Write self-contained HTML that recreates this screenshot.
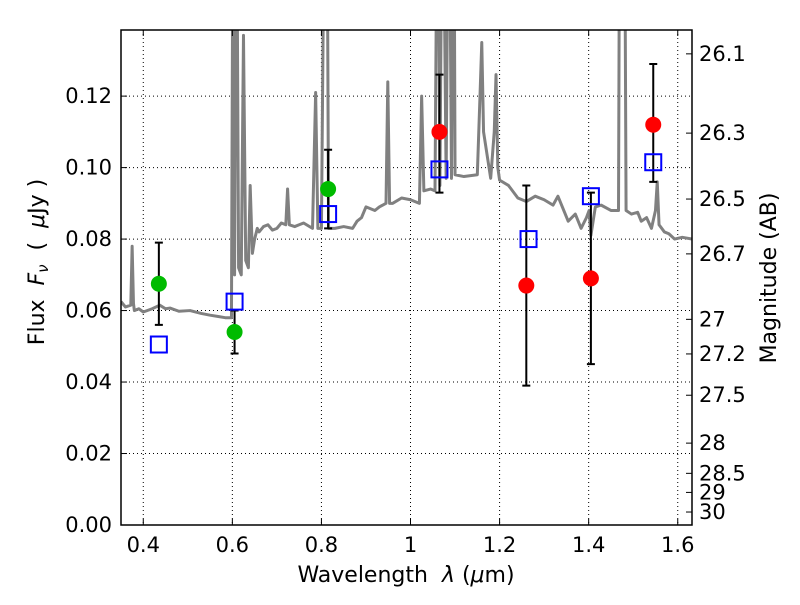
<!DOCTYPE html>
<html><head><meta charset="utf-8"><style>
body{margin:0;background:#fff}
svg text{font-family:"DejaVu Sans","Liberation Sans",sans-serif;fill:#000}
</style></head><body>
<svg id="chart" width="800" height="600" xmlns="http://www.w3.org/2000/svg">
<rect width="800" height="600" fill="#fff"/>
<g id="grid"></g>
<g id="spec"></g>
<g id="marks"></g>
<g id="axes"></g>
<text x="406" y="582" font-size="22" text-anchor="middle" xml:space="preserve">Wavelength  <tspan font-style="italic">λ</tspan> (<tspan font-style="italic">μ</tspan>m)</text>
<text transform="translate(44,262) rotate(-90)" font-size="22" text-anchor="middle" xml:space="preserve">Flux  <tspan font-style="italic">F<tspan font-size="15" dy="4">ν</tspan></tspan><tspan dy="-4">  (  <tspan font-style="italic">μ</tspan>Jy )</tspan></text>
<text transform="translate(776,278) rotate(-90)" font-size="22" text-anchor="middle">Magnitude (AB)</text>
</svg>
<script>
const xTicks=[0.4,0.6,0.8,1.0,1.2,1.4,1.6];
const xTickLabels=["0.4","0.6","0.8","1","1.2","1.4","1.6"];
const yTicks=[0,0.02,0.04,0.06,0.08,0.10,0.12];
const yTickLabels=["0.00","0.02","0.04","0.06","0.08","0.10","0.12"];
const magTicks=[26.1,26.3,26.5,26.7,27,27.2,27.5,28,28.5,29,30];
const greenX=[0.435,0.605,0.815];
const greenY=[0.0675,0.054,0.094];
const greenLo=[0.056,0.048,0.083];
const greenHi=[0.079,0.060,0.105];
const redX=[1.065,1.26,1.405,1.545];
const redY=[0.110,0.067,0.069,0.112];
const redLo=[0.093,0.039,0.045,0.096];
const redHi=[0.126,0.095,0.093,0.129];
const modelX=[0.435,0.605,0.815,1.065,1.265,1.405,1.545];
const modelY=[0.0505,0.0625,0.087,0.0995,0.080,0.092,0.1015];
const specW=[0.35,0.36,0.372,0.375,0.378,0.38,0.39,0.40,0.42,0.437,0.45,0.46,0.48,0.505,0.53,0.55,0.57,0.584,0.598,0.602,0.605,0.609,0.614,0.62,0.625,0.63,0.636,0.64,0.645,0.65,0.656,0.66,0.67,0.68,0.69,0.70,0.71,0.72,0.724,0.728,0.74,0.75,0.76,0.78,0.787,0.792,0.80,0.808,0.812,0.816,0.83,0.85,0.87,0.88,0.89,0.90,0.92,0.93,0.945,0.949,0.953,0.96,0.98,1.0,1.02,1.025,1.03,1.045,1.055,1.061,1.066,1.072,1.08,1.086,1.092,1.097,1.10,1.12,1.15,1.156,1.16,1.164,1.18,1.188,1.192,1.196,1.20,1.22,1.241,1.26,1.28,1.30,1.32,1.331,1.354,1.37,1.383,1.395,1.401,1.405,1.415,1.428,1.45,1.467,1.470,1.475,1.48,1.484,1.496,1.51,1.518,1.53,1.541,1.550,1.554,1.558,1.57,1.58,1.593,1.61,1.632];
const specF=[0.0625,0.061,0.0615,0.078,0.062,0.060,0.0605,0.0596,0.0605,0.0615,0.0605,0.0607,0.0598,0.060,0.0592,0.0587,0.0583,0.058,0.058,0.2,0.07,0.2,0.072,0.070,0.137,0.074,0.072,0.095,0.076,0.080,0.083,0.082,0.0835,0.084,0.0825,0.083,0.0845,0.084,0.094,0.084,0.0835,0.084,0.0845,0.083,0.121,0.083,0.083,0.2,0.2,0.083,0.083,0.0835,0.083,0.085,0.086,0.089,0.088,0.089,0.090,0.124,0.090,0.090,0.0915,0.091,0.090,0.120,0.0935,0.094,0.0935,0.2,0.095,0.2,0.097,0.2,0.097,0.2,0.098,0.0975,0.098,0.12,0.135,0.11,0.097,0.11,0.126,0.10,0.0965,0.095,0.0915,0.0905,0.092,0.091,0.0895,0.092,0.085,0.087,0.083,0.086,0.088,0.081,0.089,0.0895,0.088,0.088,0.2,0.2,0.2,0.088,0.087,0.0875,0.085,0.086,0.083,0.088,0.096,0.084,0.082,0.0815,0.080,0.0805,0.080];
const L=121,R=692,T=30,B=525,xmin=0.35,xmax=1.632,ymin=0,ymax=0.1385;
const sx=v=>L+(v-xmin)/(xmax-xmin)*(R-L);
const sy=v=>B-(v-ymin)/(ymax-ymin)*(B-T);
const NS="http://www.w3.org/2000/svg";
function mk(p,t,a){const e=document.createElementNS(NS,t);for(const k in a)e.setAttribute(k,a[k]);p.appendChild(e);return e;}
const grid=document.getElementById('grid'),axes=document.getElementById('axes'),spec=document.getElementById('spec'),marks=document.getElementById('marks');
xTicks.forEach((v,i)=>{const x=sx(v);
 const g=mk(grid,'line',{x1:x,x2:x,y1:T,y2:B,stroke:'#000','stroke-width':1,'stroke-dasharray':'1,3'});
 
 const t1=mk(axes,'line',{x1:x,x2:x,y1:B,y2:B-6,stroke:'#000'});
 const t2=mk(axes,'line',{x1:x,x2:x,y1:T,y2:T+6,stroke:'#000'});
 const tx=mk(axes,'text',{x:x,y:B+27,'font-size':21,'text-anchor':'middle'});tx.textContent=xTickLabels[i];
 });
yTicks.forEach((v,i)=>{const y=sy(v);
 const g=mk(grid,'line',{x1:L,x2:R,y1:y,y2:y,stroke:'#000','stroke-width':1,'stroke-dasharray':'1,3'});
 
 const t1=mk(axes,'line',{x1:L,x2:L+6,y1:y,y2:y,stroke:'#000'});
 const tx=mk(axes,'text',{x:L-9,y:y+7,'font-size':21,'text-anchor':'end'});tx.textContent=yTickLabels[i];
 });
magTicks.forEach(m=>{const f=Math.pow(10,(23.9-m)/2.5);const y=sy(f);
 const t1=mk(axes,'line',{x1:R-6,x2:R,y1:y,y2:y,stroke:'#000'});
 const tx=mk(axes,'text',{x:R+7,y:y+7,'font-size':21});tx.textContent=String(m);
 });
const clip=mk(spec,'clipPath',{id:'pc'});mk(clip,'rect',{x:L,y:T,width:R-L,height:B-T});
const pl=mk(spec,'polyline',{points:specW.map((w,i)=>sx(w)+','+sy(specF[i])).join(' '),fill:'none',stroke:'#808080','stroke-width':3,'stroke-linejoin':'round','clip-path':'url(#pc)'});

function errs(xs,lo,hi){xs.forEach((x,i)=>{const X=sx(x);
 const e=mk(marks,'path',{d:`M${X},${sy(lo[i])}V${sy(hi[i])}M${X-4},${sy(lo[i])}h8M${X-4},${sy(hi[i])}h8`,stroke:'#000','stroke-width':2,fill:'none'});
 });}
errs(greenX,greenLo,greenHi);errs(redX,redLo,redHi);
greenX.forEach((x,i)=>{const c=mk(marks,'circle',{cx:sx(x),cy:sy(greenY[i]),r:8,fill:'#00bb00'});});
redX.forEach((x,i)=>{const c=mk(marks,'circle',{cx:sx(x),cy:sy(redY[i]),r:8,fill:'#ff0000'});});
modelX.forEach((x,i)=>{const r=mk(marks,'rect',{x:sx(x)-8,y:sy(modelY[i])-8,width:16,height:16,fill:'none',stroke:'#0000ff','stroke-width':2});});
const fr=mk(axes,'rect',{x:L,y:T,width:R-L,height:B-T,fill:'none',stroke:'#000','stroke-width':1.5});

</script>
</body></html>
